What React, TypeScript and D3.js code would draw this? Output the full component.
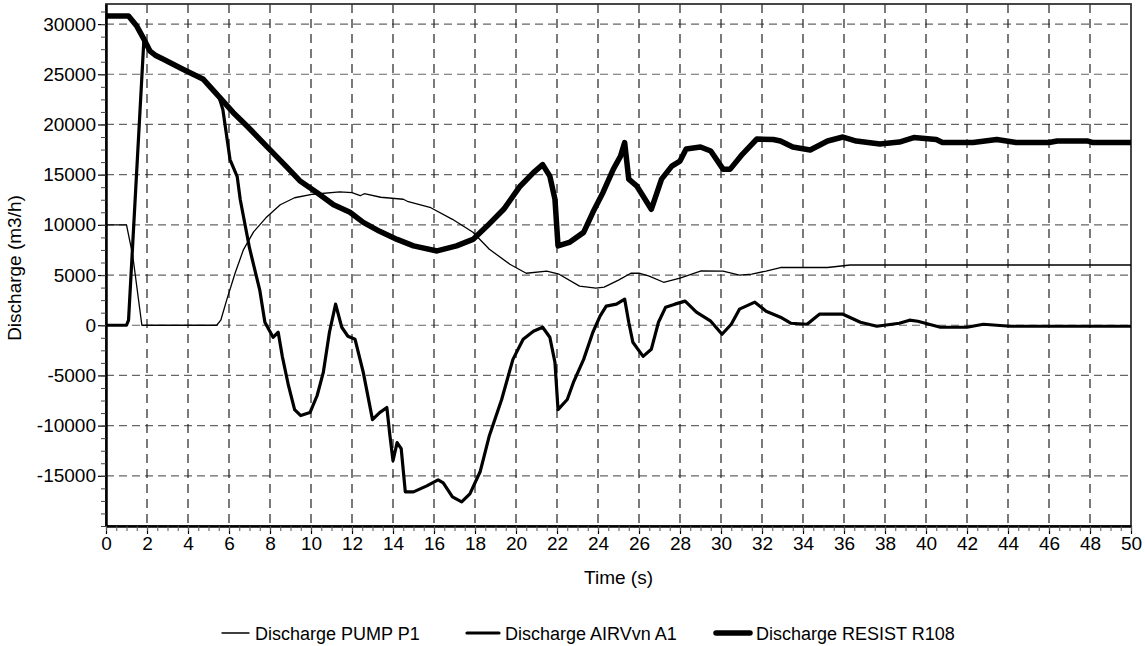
import { useEffect, useRef } from 'react';
import * as d3 from 'd3';

// Discharge PUMP P1 (thin)
const PUMP_T = [0, 1.0, 1.3, 1.75, 5.4, 5.6, 5.9, 6.3, 6.7, 7.2, 7.8, 8.5, 9.2, 10.1, 11.4, 12.0, 12.4, 12.6, 13.4, 14.5, 14.7, 15.8, 16.9, 17.9, 18.7, 19.7, 20.5, 21.5, 22.1, 23.1, 23.9, 24.3, 25.0, 25.6, 26.0, 26.5, 27.2, 28.0, 29.0, 30.1, 30.9, 31.5, 32.2, 32.9, 35.2, 36.3, 50];
const PUMP_Q = [10000, 10000, 7000, 0, 0, 500, 2600, 5200, 7500, 9300, 10700, 12000, 12700, 13050, 13280, 13200, 12900, 13100, 12750, 12550, 12350, 11750, 10550, 9260, 7570, 6075, 5180, 5380, 5080, 3900, 3690, 3800, 4500, 5180, 5180, 4900, 4280, 4700, 5400, 5380, 5000, 5100, 5400, 5750, 5750, 6000, 6000];

// Discharge AIRVvn A1 (medium)
const AIRV_T = [0, 1.0, 1.1, 1.85, 2.0, 2.15, 2.8, 3.75, 4.75, 5.5, 5.7, 6.05, 6.4, 6.55, 7.0, 7.5, 7.75, 8.15, 8.4, 8.6, 8.9, 9.2, 9.5, 9.95, 10.3, 10.6, 10.9, 11.2, 11.5, 11.8, 12.15, 12.55, 13.0, 13.35, 13.7, 13.85, 14.0, 14.2, 14.4, 14.6, 15.0, 15.65, 16.2, 16.45, 16.9, 17.35, 17.75, 18.25, 18.7, 19.3, 19.85, 20.35, 20.85, 21.3, 21.65, 21.9, 22.05, 22.5, 22.8, 23.3, 23.75, 24.1, 24.4, 24.9, 25.3, 25.5, 25.7, 26.2, 26.6, 26.95, 27.3, 27.75, 28.25, 28.8, 29.5, 30.05, 30.5, 30.9, 31.65, 32.2, 32.9, 33.4, 34.2, 34.8, 35.95, 36.8, 37.6, 38.7, 39.2, 39.6, 40.7, 42.0, 42.8, 44.1, 46.0, 50];
const AIRV_Q = [0, 0, 500, 28500, 27900, 27300, 26500, 25500, 24500, 22800, 21500, 16500, 14800, 12500, 7700, 3500, 300, -1200, -700, -3100, -6000, -8400, -9000, -8700, -7000, -4700, -700, 2100, -200, -1100, -1400, -4700, -9400, -8700, -8200, -11000, -13500, -11700, -12300, -16600, -16600, -16000, -15400, -15700, -17100, -17600, -16800, -14600, -11000, -7400, -3400, -1400, -600, -200, -1200, -3700, -8400, -7400, -5700, -3400, -700, 900, 1900, 2100, 2600, 300, -1700, -3100, -2400, 300, 1800, 2100, 2400, 1300, 400, -900, 100, 1600, 2300, 1400, 800, 200, 100, 1100, 1100, 300, -100, 200, 500, 400, -200, -200, 100, -100, -100, -100];

// Discharge RESIST R108 (thick)
const RES_T = [0, 1.1, 1.5, 1.85, 2.0, 2.15, 2.4, 2.8, 3.75, 4.75, 5.5, 6.2, 6.9, 7.85, 8.8, 9.45, 10.3, 11.1, 11.9, 12.55, 13.35, 14.2, 15.0, 16.15, 17.1, 17.9, 18.6, 19.4, 20.2, 20.85, 21.3, 21.65, 21.9, 22.05, 22.6, 23.3, 23.75, 24.25, 24.75, 25.1, 25.3, 25.5, 25.9, 26.6, 27.1, 27.6, 28.0, 28.3, 29.0, 29.5, 30.1, 30.45, 31.05, 31.75, 32.55, 32.9, 33.5, 34.35, 35.2, 35.95, 36.6, 37.75, 38.7, 39.4, 40.5, 40.8, 42.3, 43.45, 44.4, 46.0, 46.4, 47.9, 48.15, 50];
const RES_Q = [30800, 30800, 29800, 28500, 27900, 27300, 26900, 26500, 25500, 24500, 22800, 21200, 19800, 17800, 15800, 14400, 13200, 12000, 11250, 10250, 9350, 8550, 7900, 7400, 7900, 8550, 9900, 11550, 13850, 15200, 16000, 14850, 12550, 7900, 8250, 9250, 11250, 13250, 15550, 16850, 18200, 14550, 13850, 11550, 14550, 15850, 16350, 17550, 17750, 17350, 15550, 15550, 17050, 18550, 18500, 18350, 17750, 17450, 18350, 18750, 18350, 18050, 18250, 18700, 18500, 18200, 18200, 18500, 18200, 18200, 18350, 18350, 18200, 18200];

const X_TICKS = d3.range(0, 51, 2);
const Y_TICKS = [-15000, -10000, -5000, 0, 5000, 10000, 15000, 20000, 25000, 30000];

const SERIES = [
  { label: 'Discharge PUMP P1', t: PUMP_T, q: PUMP_Q, width: 1.3 },
  { label: 'Discharge AIRVvn A1', t: AIRV_T, q: AIRV_Q, width: 3.2 },
  { label: 'Discharge RESIST R108', t: RES_T, q: RES_Q, width: 5.5 },
];

const FONT = 'Arial, "Liberation Sans", sans-serif';

export default function App() {
  const ref = useRef<SVGSVGElement>(null);

  useEffect(() => {
    if (!ref.current) return;
    const svg = d3.select(ref.current);
    svg.selectAll('*').remove();

    const left = 106, right = 1131, top = 4, bottom = 526;
    const x = d3.scaleLinear().domain([0, 50]).range([left, right]);
    const y = d3.scaleLinear().domain([-20000, 32000]).range([bottom, top]);

    svg.append('rect').attr('width', 1145).attr('height', 646).attr('fill', '#fff');

    // Grid
    svg.append('g').selectAll('line').data(Y_TICKS).join('line')
      .attr('x1', left).attr('x2', right)
      .attr('y1', d => y(d)).attr('y2', d => y(d))
      .attr('stroke', '#666').attr('stroke-width', 1.2).attr('stroke-dasharray', '8,5');
    svg.append('g').selectAll('line').data(X_TICKS.slice(1, -1)).join('line')
      .attr('x1', d => x(d)).attr('x2', d => x(d))
      .attr('y1', top).attr('y2', bottom)
      .attr('stroke', '#222').attr('stroke-width', 1.2).attr('stroke-dasharray', '9,6');

    // Frame
    svg.append('rect').attr('x', left).attr('y', top).attr('width', right - left).attr('height', bottom - top)
      .attr('fill', 'none').attr('stroke', '#333').attr('stroke-width', 1.8);

    // Series
    const clip = svg.append('clipPath').attr('id', 'plot-clip');
    clip.append('rect').attr('x', left).attr('y', top).attr('width', right - left).attr('height', bottom - top);
    const plot = svg.append('g').attr('clip-path', 'url(#plot-clip)');
    SERIES.forEach(s => {
      const line = d3.line<number>()
        .x(i => x(s.t[i]))
        .y(i => y(s.q[i]));
      plot.append('path')
        .datum(d3.range(s.t.length))
        .attr('fill', 'none').attr('stroke', '#000')
        .attr('stroke-width', s.width)
        .attr('stroke-linejoin', 'round').attr('stroke-linecap', 'round')
        .attr('d', line);
    });

    // Axes
    const fmt = (d: d3.NumberValue) => String(d);
    const yAxis = svg.append('g').attr('transform', `translate(${left},0)`)
      .call(d3.axisLeft(y).tickValues(Y_TICKS).tickSize(8).tickSizeOuter(0).tickPadding(2).tickFormat(fmt));
    yAxis.selectAll('text').attr('font-size', 19).attr('font-family', FONT).attr('fill', '#000');
    yAxis.select('.domain').attr('stroke', '#000').attr('stroke-width', 2.5);
    yAxis.selectAll('.tick line').attr('stroke', '#000').attr('stroke-width', 1.2);
    svg.append('g').attr('transform', `translate(${left},0)`)
      .call(d3.axisLeft(y).tickValues(d3.range(-20000, 32001, 1250)).tickSize(5).tickFormat(() => ''))
      .call(g => g.select('.domain').remove())
      .selectAll('.tick line').attr('stroke', '#444').attr('stroke-width', 1);

    const xAxis = svg.append('g').attr('transform', `translate(0,${bottom})`)
      .call(d3.axisBottom(x).tickValues(X_TICKS).tickSize(8).tickSizeOuter(0).tickPadding(3).tickFormat(fmt));
    xAxis.selectAll('text').attr('font-size', 19).attr('font-family', FONT).attr('fill', '#000');
    xAxis.select('.domain').attr('stroke', '#000').attr('stroke-width', 2.5);
    xAxis.selectAll('.tick line').attr('stroke', '#000').attr('stroke-width', 1.2);
    svg.append('g').attr('transform', `translate(0,${bottom})`)
      .call(d3.axisBottom(x).tickValues(d3.range(0, 50.01, 0.5)).tickSize(5).tickFormat(() => ''))
      .call(g => g.select('.domain').remove())
      .selectAll('.tick line').attr('stroke', '#555').attr('stroke-width', 1);

    // Axis titles
    svg.append('text').attr('x', (left + right) / 2).attr('y', 584)
      .attr('text-anchor', 'middle').attr('font-size', 19).attr('font-family', FONT).text('Time (s)');
    svg.append('text').attr('transform', 'rotate(-90)').attr('x', -268).attr('y', 21)
      .attr('text-anchor', 'middle').attr('font-size', 19).attr('font-family', FONT).text('Discharge (m3/h)');

    // Legend
    const legendX = [222, 467, 716];
    const legendLen = [27, 32, 34];
    SERIES.forEach((s, i) => {
      const g = svg.append('g').attr('transform', `translate(${legendX[i]},633)`);
      g.append('line').attr('x1', 0).attr('x2', legendLen[i]).attr('y1', 0).attr('y2', 0)
        .attr('stroke', '#000').attr('stroke-width', s.width).attr('stroke-linecap', 'round');
      g.append('text').attr('x', legendLen[i] + 6).attr('y', 6.5)
        .attr('font-size', 18).attr('font-family', FONT).text(s.label);
    });
  }, []);

  return (
    <svg ref={ref} width={1145} height={646} style={{ position: 'absolute', left: 0, top: 0 }} />
  );
}
